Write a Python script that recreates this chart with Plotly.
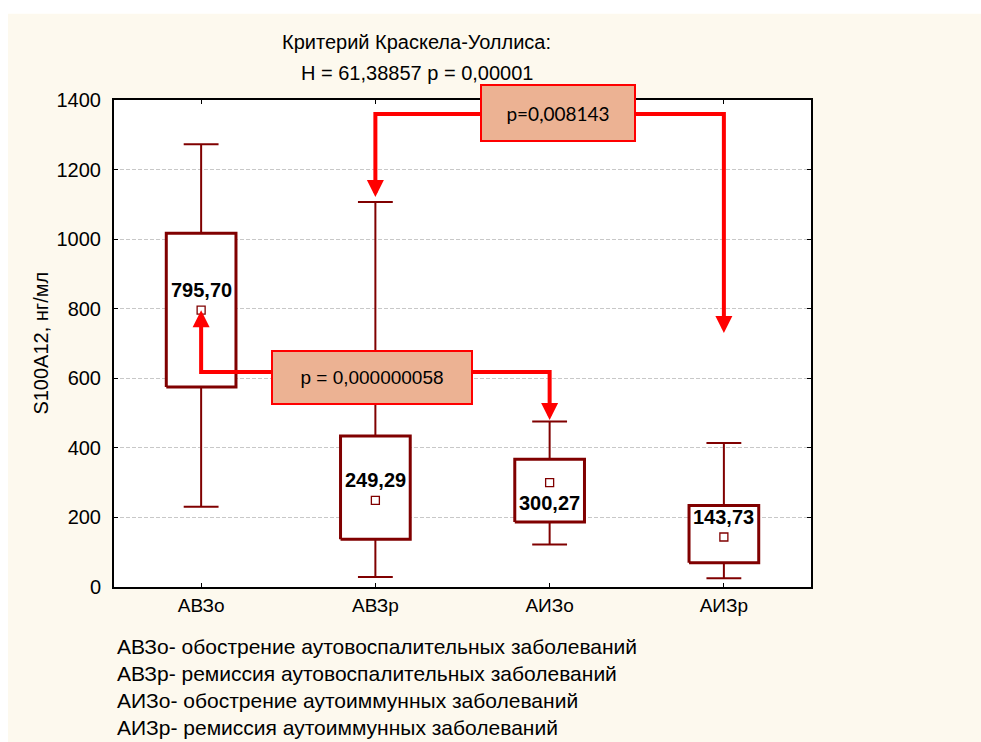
import plotly.graph_objects as go

# --- data -----------------------------------------------------------------
categories = ["АВЗо", "АВЗр", "АИЗо", "АИЗр"]
means = [795.70, 249.29, 300.27, 143.73]
mean_labels = ["795,70", "249,29", "300,27", "143,73"]
box_low = [575, 137, 187, 70]
box_high = [1017, 434, 367, 234]
whisker_low = [231, 29, 122, 25]
whisker_high = [1273, 1107, 476, 414]
label_side = [1, 1, -1, 1]          # +1: value label above the mean marker, -1: below

y_ticks = [0, 200, 400, 600, 800, 1000, 1200, 1400]

title_lines = ["Критерий Краскела-Уоллиса:", "H = 61,38857 p = 0,00001"]
y_title = "S100A12, нг/мл"
notes = [
    "АВЗо- обострение аутовоспалительных заболеваний",
    "АВЗр- ремиссия аутовоспалительных заболеваний",
    "АИЗо- обострение аутоиммунных заболеваний",
    "АИЗр- ремиссия аутоиммунных заболеваний",
]

# pairwise comparisons: groups joined, height of the connector, where each arrow points
comp_text = ["p=0,008143", "p = 0,000000058"]
comp_pairs = [(1, 3), (0, 2)]
comp_level = [1360, 618]
comp_tips = [(1121, 730), (795.70, 480)]
comp_label_pos = [(2.048, 1364), (0.981, 601)]
comp_label_size = [(152, 54), (198, 51)]
comp_font = ["Lato", "Liberation Sans, Arial"]

# --- styling --------------------------------------------------------------
DARK_RED = "#800000"
RED = "#ff0000"
SALMON = "#ecb293"
CREAM = "#fdf9ee"
FONT = "Liberation Sans, Arial, sans-serif"

fig = go.Figure()

BOX_HALF = 0.2
CAP_HALF = 0.1

for i, cat in enumerate(categories):
    # whiskers with caps
    fig.add_trace(go.Scatter(
        x=[i, i, None, i, i, None,
           i - CAP_HALF, i + CAP_HALF, None, i - CAP_HALF, i + CAP_HALF],
        y=[box_high[i], whisker_high[i], None, box_low[i], whisker_low[i], None,
           whisker_high[i], whisker_high[i], None, whisker_low[i], whisker_low[i]],
        mode="lines", line=dict(color=DARK_RED, width=2),
        hoverinfo="skip", showlegend=False))
    # box
    fig.add_trace(go.Scatter(
        x=[i - BOX_HALF, i + BOX_HALF, i + BOX_HALF, i - BOX_HALF, i - BOX_HALF],
        y=[box_low[i], box_low[i], box_high[i], box_high[i], box_low[i]],
        mode="lines", line=dict(color=DARK_RED, width=3),
        fill="toself", fillcolor="white",
        hoverinfo="skip", showlegend=False))

# mean markers
fig.add_trace(go.Scatter(
    x=list(range(len(categories))), y=means, mode="markers",
    marker=dict(symbol="square", size=8, color="white",
                line=dict(color=DARK_RED, width=1.3)),
    hoverinfo="skip", showlegend=False))

annotations = []
for i, (m, lab, side) in enumerate(zip(means, mean_labels, label_side)):
    annotations.append(dict(
        x=i, y=m, xref="x", yref="y", text=f"<b>{lab}</b>", showarrow=False,
        yshift=20 * side, font=dict(family=FONT, size=20, color="black")))

# comparison connectors
HEAD = 45  # length of the arrow segment drawn by the annotation, in data units
for (a, b), level, tips in zip(comp_pairs, comp_level, comp_tips):
    xs, ys = [], []
    for k, (cx, tip) in enumerate(zip((a, b), tips)):
        direction = 1 if tip > level else -1
        base = tip - direction * HEAD
        pts = [(cx, base), (cx, level)]
        if k == 1:
            pts = pts[::-1]
        for px, py in pts:
            xs.append(px)
            ys.append(py)
        annotations.append(dict(
            x=cx, y=tip, ax=cx, ay=base, xref="x", yref="y", axref="x", ayref="y",
            text="", showarrow=True, arrowhead=2, arrowsize=0.85, arrowwidth=4,
            arrowcolor=RED, standoff=0))
    fig.add_trace(go.Scatter(
        x=xs, y=ys, mode="lines", line=dict(color=RED, width=4),
        hoverinfo="skip", showlegend=False))

for text, (lx, ly), (w, h), fam in zip(comp_text, comp_label_pos, comp_label_size, comp_font):
    annotations.append(dict(
        x=lx, y=ly, xref="x", yref="y", text=text, showarrow=False,
        width=w, height=h, bgcolor=SALMON, bordercolor=RED, borderwidth=2,
        borderpad=0, font=dict(family=fam, size=19, color="black")))

# title
for line, ty in zip(title_lines, [1.119, 1.055]):
    annotations.append(dict(
        x=0.4347, y=ty, xref="paper", yref="paper", text=line, showarrow=False,
        xanchor="center", yanchor="middle", font=dict(family=FONT, size=20, color="black")))

# y-axis title
annotations.append(dict(
    x=-0.106, y=0.5, xref="paper", yref="paper", text=y_title, showarrow=False,
    textangle=-90, xanchor="center", yanchor="middle",
    font=dict(family=FONT, size=20, color="black")))

# notes below the chart
for k, note in enumerate(notes):
    annotations.append(dict(
        x=0.0015, y=-0.1232 - k * 0.0554, xref="paper", yref="paper", text=note,
        showarrow=False, xanchor="left", yanchor="middle",
        font=dict(family=FONT, size=21, color="black")))

fig.update_layout(
    width=981, height=742,
    margin=dict(l=114, r=170, t=100, b=155),
    paper_bgcolor=CREAM, plot_bgcolor="white",
    annotations=annotations,
    shapes=[
        dict(type="rect", xref="paper", yref="paper", layer="below",
             x0=-0.2, x1=1.3, y0=1.177, y1=1.3, fillcolor="white", line_width=0),
        dict(type="rect", xref="paper", yref="paper", layer="below",
             x0=-0.2, x1=-0.1521, y0=-0.4, y1=1.3, fillcolor="white", line_width=0),
    ],
    xaxis=dict(
        range=[-0.5, len(categories) - 0.5], tickmode="array",
        tickvals=list(range(len(categories))), ticktext=categories,
        showgrid=False, zeroline=False, showline=True, linecolor="black",
        linewidth=2, mirror="ticks", ticks="inside", ticklen=4, tickcolor="black",
        tickfont=dict(family=FONT, size=19, color="black")),
    yaxis=dict(
        range=[0, 1400], tickmode="array", tickvals=y_ticks,
        showgrid=True, gridcolor="#c8c8c8", griddash="4px,2px", gridwidth=1,
        zeroline=False, showline=True, linecolor="black", linewidth=2,
        mirror="ticks", ticks="inside", ticklen=4, tickcolor="black",
        ticklabelstandoff=7,
        tickfont=dict(family=FONT, size=20, color="black")),
)

fig.write_html("out.html")
